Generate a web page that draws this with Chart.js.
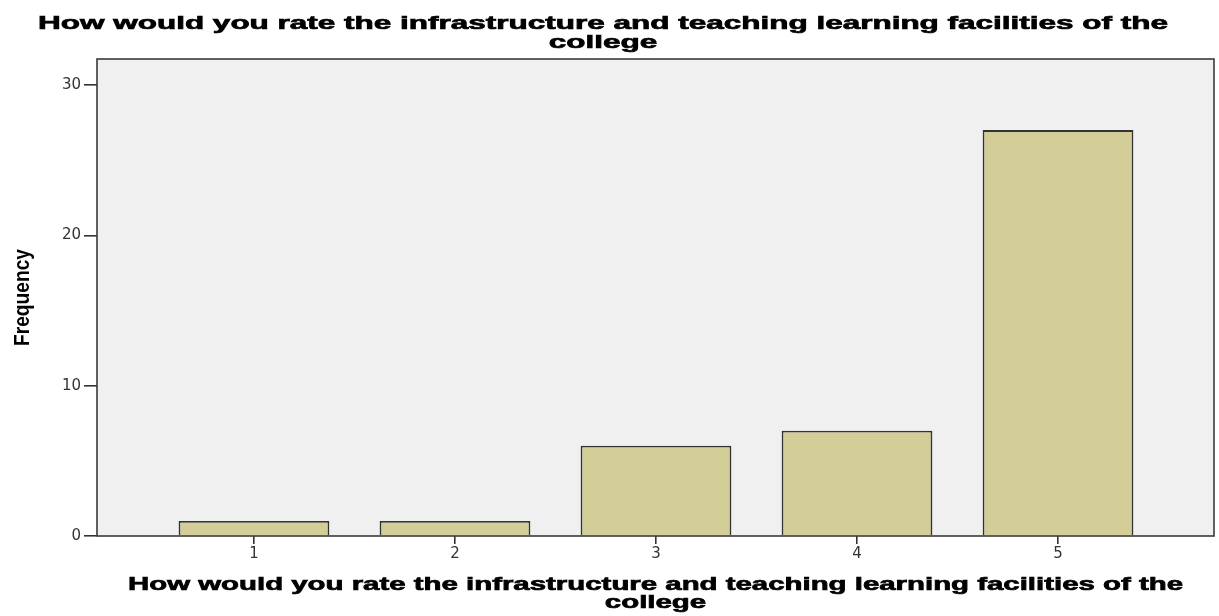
<!DOCTYPE html>
<html>
<head>
<meta charset="utf-8">
<script src="https://cdn.jsdelivr.net/npm/chart.js@4.4.1/dist/chart.umd.min.js"></script>
<style>
  html, body { margin: 0; padding: 0; background: #ffffff; }
  #wrap { width: 1219px; height: 616px; }
</style>
</head>
<body>
<div id="wrap"><canvas id="barChart" width="1219" height="616"></canvas></div>
<script>
// ---- data ----
const categories = [1, 2, 3, 4, 5];
const frequencies = [1, 1, 6, 7, 27];
const yTicks = [0, 10, 20, 30];
const titleLines = ['How would you rate the infrastructure and teaching learning facilities of the', 'college'];
const xTitleLines = titleLines;
const yTitle = 'Frequency';

const boldFont = px => 'bold ' + px + 'px "Liberation Sans", Arial, sans-serif';

// SPSS-ish look: gray plot background, frame and wide stretched titles
const plotFrame = {
  id: 'plotFrame',
  beforeDatasetsDraw(chart) {
    const { ctx, chartArea: a } = chart;
    ctx.save();
    ctx.fillStyle = '#f0f0f0';
    ctx.fillRect(a.left, a.top, a.right - a.left, a.bottom - a.top);
    ctx.restore();
  },
  afterDraw(chart) {
    const { ctx, chartArea: a } = chart;
    ctx.save();
    ctx.strokeStyle = '#3a3a3a';
    ctx.lineWidth = 1.6;
    ctx.strokeRect(a.left, a.top, a.right - a.left, a.bottom - a.top);

    // stretched two-line text block, width of first line given
    const block = (lines, cx, y0, gap, width) => {
      ctx.font = boldFont(19);
      ctx.fillStyle = '#000000';
      ctx.strokeStyle = '#000000';
      ctx.lineWidth = 0.7;
      ctx.textAlign = 'center';
      ctx.textBaseline = 'alphabetic';
      const sx = width / ctx.measureText(lines[0]).width;
      lines.forEach((t, i) => {
        ctx.save();
        ctx.translate(cx, y0 + i * gap);
        ctx.scale(sx, 1);
        ctx.fillText(t, 0, 0);
        ctx.strokeText(t, 0, 0);
        ctx.restore();
      });
    };
    block(titleLines, 603, 29, 19, 1130);
    block(xTitleLines, (a.left + a.right) / 2, 590, 18, 1055);

    // y title, rotated and a bit condensed
    ctx.save();
    ctx.font = boldFont(22);
    ctx.fillStyle = '#000000';
    ctx.textAlign = 'center';
    ctx.textBaseline = 'alphabetic';
    const sy = 97 / ctx.measureText(yTitle).width;
    ctx.translate(29, (a.top + a.bottom) / 2);
    ctx.rotate(-Math.PI / 2);
    ctx.scale(sy, 1);
    ctx.fillText(yTitle, 0, 0);
    ctx.restore();

    ctx.restore();
  }
};

const tickFont = { family: '"DejaVu Sans", sans-serif', size: 15 };

new Chart(document.getElementById('barChart').getContext('2d'), {
  type: 'bar',
  data: {
    datasets: [{
      data: categories.map((c, i) => ({ x: c, y: frequencies[i] })),
      backgroundColor: '#d3ce97',
      borderColor: '#333333',
      borderWidth: 1.8,
      barPercentage: 0.75,
      categoryPercentage: 1
    }]
  },
  options: {
    responsive: false,
    animation: false,
    layout: { padding: { left: 0, right: 5, top: 59, bottom: 0 } },
    plugins: {
      legend: { display: false },
      tooltip: { enabled: false },
      title: { display: false }
    },
    scales: {
      x: {
        type: 'linear',
        offset: false,
        min: 0.219,
        max: 5.776,
        afterBuildTicks: s => { s.ticks = categories.map(v => ({ value: v })); },
        afterFit: s => { s.height = 80; },
        border: { display: false },
        grid: { offset: false, drawOnChartArea: false, tickLength: 8, color: '#333333', lineWidth: 1.6 },
        ticks: { color: '#333333', font: tickFont, padding: 1 }
      },
      y: {
        min: 0,
        max: 31.73,
        afterBuildTicks: s => { s.ticks = yTicks.map(v => ({ value: v })); },
        afterFit: s => { s.width = 97; },
        border: { display: false },
        grid: { drawOnChartArea: false, tickLength: 13, color: '#333333', lineWidth: 1.6 },
        ticks: { color: '#333333', font: tickFont, padding: 3 }
      }
    }
  },
  plugins: [plotFrame]
});
</script>
</body>
</html>
